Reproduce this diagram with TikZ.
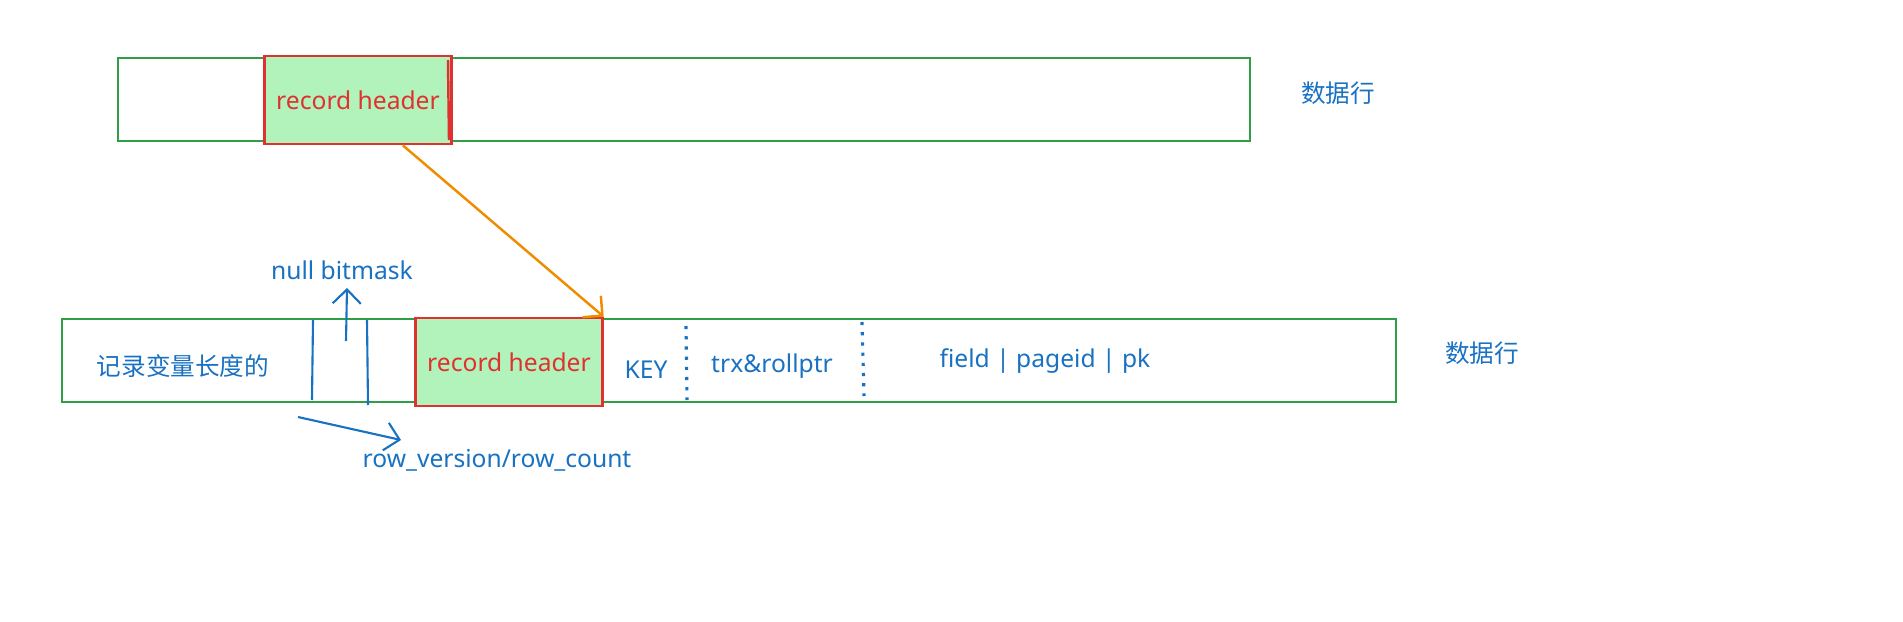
\documentclass[tikz,border=0pt]{standalone}
\usepackage{fontspec}
\setmainfont{Noto Sans}
\newfontfamily\cjk{Noto Sans CJK SC}
\usetikzlibrary{positioning, arrows.meta}
\definecolor{rowgreen}{HTML}{2F9E44}
\definecolor{hdrred}{HTML}{E03131}
\definecolor{hdrfill}{HTML}{B2F2BB}
\definecolor{txtblue}{HTML}{1971C2}
\definecolor{arrorange}{HTML}{F08C00}
\tikzset{
  rowbox/.style={draw=rowgreen, line width=0.6pt},
  hdrbox/.style={draw=hdrred, fill=hdrfill, line width=0.7pt, text=hdrred},
  lbl/.style={text=txtblue, inner sep=0pt},
  sep/.style={txtblue, line width=0.6pt},
  dotsep/.style={txtblue, line width=0.9pt, dotted},
}
\begin{document}
\begin{tikzpicture}[x=0.01cm, y=-0.01cm, font=\fontsize{7}{8}\selectfont, >={Straight Barb[length=4pt]}]
  % Top row
  \draw[rowbox] (118,58) rectangle (1250,141);
  \node[hdrbox, minimum width=1.74cm, minimum height=0.88cm] (tophdr) at (358,100) {record header};
  \draw[hdrred, line width=0.7pt] (448,60) -- (449,140);
  \node[lbl] (toprow) at (1338,93) {\cjk 数据行};

  % Bottom row
  \draw[rowbox] (62,319) rectangle (1396,402);
  \node[hdrbox, minimum width=1.74cm, minimum height=0.88cm] (bothdr) at (509,362) {record header};
  \node[lbl] (botrow) at (1482,353) {\cjk 数据行};
  \node[lbl] (varlen) at (183,366) {\cjk 记录变量长度的};
  \draw[sep] (313,320) -- (312,400);
  \draw[sep] (367,320) -- (368,405);
  \node[lbl] (key) at (646,370) {KEY};
  \draw[dotsep] (686,326) -- (687,400);
  \node[lbl] (trx) at (772,366) {trx\&rollptr};
  \draw[dotsep] (862,322) -- (864,396);
  \node[lbl] (fields) at (1045,361) {field | pageid | pk};

  % Labels with arrows
  \node[lbl] (nullbm) at (342,270) {null bitmask};
  \coordinate (nbstart) at (346,341);
  \draw[->, txtblue, line width=0.6pt] (nbstart) -- (347,288);
  \node[lbl] (rowver) at (497,460) {row\_version/row\_count};
  \coordinate (rvstart) at (298,417);
  \draw[->, txtblue, line width=0.6pt] (rvstart) -- (401,440);

  % Header mapping
  \draw[->, arrorange, line width=0.7pt] (tophdr.south east) ++(-50,0) -- (bothdr.north east);

  \pgfresetboundingbox
  \useasboundingbox (0,0) rectangle (1903,621);
\end{tikzpicture}
\end{document}
